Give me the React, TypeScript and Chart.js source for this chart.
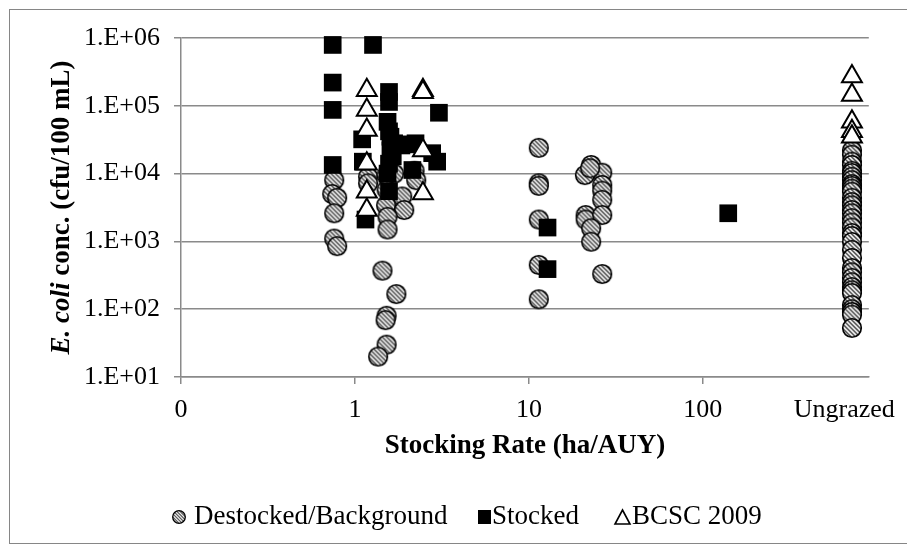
import React, { useEffect, useRef } from "react";
import { Chart, registerables } from "chart.js";

Chart.register(...registerables);

// ---------- data ----------
const UNGRAZED = 720; // plotting position used for the "Ungrazed" column
const UNGRAZED_LABEL_AT = 650;

const xTickValues = [0.1, 1, 10, 100, UNGRAZED_LABEL_AT];
const xTickLabels = ["0", "1", "10", "100", "Ungrazed"];
const yTickValues = [10, 100, 1000, 10000, 100000, 1000000];
const yTickLabels = ["1.E+01", "1.E+02", "1.E+03", "1.E+04", "1.E+05", "1.E+06"];

const xTitle = "Stocking Rate (ha/AUY)";
const yTitleItalic = "E. coli";
const yTitleRest = " conc. (cfu/100 mL)";
const seriesNames = ["Destocked/Background", "Stocked", "BCSC 2009"];

const destockedX = [
  0.76, 0.74, 0.79, 0.76, 0.76, 0.79,
  1.19, 1.19,
  1.52, 1.52, 1.87, 1.51, 1.92, 1.54, 1.54, 1.44, 1.73, 1.52, 1.5, 1.52, 1.36, 1.68, 2.2, 2.25,
  11.4, 11.4, 11.4, 11.4, 11.4, 11.4,
  22.8, 21, 26.4, 26.4, 26.4, 26.4, 21.2, 21.2, 26.4, 22.8, 22.8, 26.4, 22.5,
  UNGRAZED, UNGRAZED, UNGRAZED, UNGRAZED, UNGRAZED, UNGRAZED, UNGRAZED, UNGRAZED, UNGRAZED, UNGRAZED,
  UNGRAZED, UNGRAZED, UNGRAZED, UNGRAZED, UNGRAZED, UNGRAZED, UNGRAZED, UNGRAZED, UNGRAZED, UNGRAZED,
  UNGRAZED, UNGRAZED, UNGRAZED, UNGRAZED, UNGRAZED, UNGRAZED, UNGRAZED, UNGRAZED, UNGRAZED, UNGRAZED,
  UNGRAZED, UNGRAZED, UNGRAZED, UNGRAZED, UNGRAZED, UNGRAZED, UNGRAZED,
];
const destockedY = [
  8000, 5000, 4400, 2600, 1100, 850,
  9000, 7200,
  9500, 5800, 4600, 3400, 2900, 2300, 1500, 370, 167, 80, 69, 30, 20, 10000, 11000, 8000,
  24000, 7200, 6600, 2100, 450, 140,
  13400, 9500, 10300, 6800, 5600, 4100, 2450, 2100, 2450, 1560, 990, 330, 12000,
  22000, 19000, 15000, 13400, 11000, 10200, 9000, 8000, 7000, 6600,
  6000, 5400, 4400, 3800, 3400, 2900, 2600, 2200, 1900, 1600,
  1330, 1200, 980, 750, 570, 405, 350, 290, 250, 212,
  190, 173, 115, 100, 91, 83, 53,
];

const stockedX = [
  0.745, 1.27, 0.745, 0.745, 1.57, 1.57, 3.04, 1.54, 1.57, 1.6, 1.1, 1.68, 1.85, 2.0, 2.23,
  1.6, 2.78, 2.97, 1.65, 1.11, 1.57, 0.745, 2.14, 1.54, 1.57, 1.15, 12.8, 12.8, 140,
];
const stockedY = [
  790000, 790000, 220000, 87000, 160000, 114000, 79000, 58000, 42000, 35000, 32000, 28000, 26000, 27000, 28000,
  22000, 20000, 15000, 18000, 15000, 14000, 13400, 11300, 10000, 5500, 2100, 1600, 390, 2600,
];

const bcscX = [
  1.17, 1.17, 1.17, 1.17, 1.17, 1.17,
  2.46, 2.46, 2.46, 2.46,
  UNGRAZED, UNGRAZED, UNGRAZED, UNGRAZED, UNGRAZED,
];
const bcscY = [
  170000, 87000, 44000, 14000, 5400, 2900,
  170000, 158000, 22000, 5100,
  270000, 144000, 58000, 42000, 35000,
];

// ---------- styling ----------
const FONT = "'Liberation Serif', 'Times New Roman', serif";
const GRID = "#8a8a8a";

function drawHatchedCircle(ctx: CanvasRenderingContext2D, cx: number, cy: number, r: number, lw: number, pitch: number) {
  ctx.save();
  ctx.beginPath();
  ctx.arc(cx, cy, r, 0, Math.PI * 2);
  ctx.closePath();
  ctx.fillStyle = "#f2f2f2";
  ctx.fill();
  ctx.clip();
  ctx.strokeStyle = "#555555";
  ctx.lineWidth = pitch * 0.36;
  for (let k = -2 * r; k <= 2 * r; k += pitch) {
    ctx.beginPath();
    ctx.moveTo(cx + k - r, cy - r);
    ctx.lineTo(cx + k + r, cy + r);
    ctx.stroke();
  }
  ctx.restore();
  ctx.beginPath();
  ctx.arc(cx, cy, r, 0, Math.PI * 2);
  ctx.strokeStyle = "#000";
  ctx.lineWidth = lw;
  ctx.stroke();
}

function makeCircleImage(): HTMLCanvasElement {
  const c = document.createElement("canvas");
  c.width = 22;
  c.height = 22;
  const ctx = c.getContext("2d")!;
  drawHatchedCircle(ctx, 11, 11, 9.3, 1.6, 4.4);
  return c;
}

const decorPlugin = {
  id: "decor",
  beforeDraw(chart: any) {
    const ctx: CanvasRenderingContext2D = chart.ctx;
    ctx.save();
    ctx.fillStyle = "#ffffff";
    ctx.fillRect(0, 0, chart.width, chart.height);
    ctx.strokeStyle = "#868686";
    ctx.lineWidth = 1;
    ctx.strokeRect(9.5, 9.5, chart.width + 20, 534);
    ctx.restore();
  },
  afterDraw(chart: any) {
    const ctx: CanvasRenderingContext2D = chart.ctx;
    const ca = chart.chartArea;
    ctx.save();
    ctx.fillStyle = "#000";
    ctx.textBaseline = "middle";

    // x axis title
    ctx.font = `bold 27px ${FONT}`;
    ctx.textAlign = "center";
    ctx.fillText(xTitle, (ca.left + ca.right) / 2, 446);

    // y axis title (mixed italic)
    ctx.save();
    ctx.translate(62, (ca.top + ca.bottom) / 2);
    ctx.rotate(-Math.PI / 2);
    ctx.textAlign = "left";
    ctx.font = `italic bold 27px ${FONT}`;
    const w1 = ctx.measureText(yTitleItalic).width;
    ctx.font = `bold 27px ${FONT}`;
    const w2 = ctx.measureText(yTitleRest).width;
    const start = -(w1 + w2) / 2;
    ctx.font = `italic bold 27px ${FONT}`;
    ctx.fillText(yTitleItalic, start, 0);
    ctx.font = `bold 27px ${FONT}`;
    ctx.fillText(yTitleRest, start + w1, 0);
    ctx.restore();

    // legend
    const ly = 517;
    ctx.font = `27px ${FONT}`;
    ctx.textAlign = "left";
    drawHatchedCircle(ctx, 179, ly, 6.3, 1.3, 3.2);
    ctx.fillStyle = "#000";
    ctx.fillText(seriesNames[0], 194, ly);
    ctx.fillRect(478, ly - 7, 13, 14);
    ctx.fillText(seriesNames[1], 492, ly);
    ctx.beginPath();
    ctx.moveTo(622.5, ly - 7);
    ctx.lineTo(630, ly + 7);
    ctx.lineTo(615, ly + 7);
    ctx.closePath();
    ctx.strokeStyle = "#000";
    ctx.lineWidth = 1.6;
    ctx.stroke();
    ctx.fillText(seriesNames[2], 632, ly);
    ctx.restore();
  },
};

export default function App() {
  const canvasRef = useRef<HTMLCanvasElement | null>(null);

  useEffect(() => {
    const canvas = canvasRef.current;
    if (!canvas) return;
    const circleImg = makeCircleImage();

    const chart = new Chart(canvas, {
      type: "scatter",
      data: {
        datasets: [
          {
            label: seriesNames[0],
            data: destockedX.map((x, i) => ({ x, y: destockedY[i] })),
            pointStyle: circleImg as any,
            pointRadius: 10,
            order: 3,
            clip: false as any,
          },
          {
            label: seriesNames[1],
            data: stockedX.map((x, i) => ({ x, y: stockedY[i] })),
            pointStyle: "rect",
            pointRadius: 12.5,
            backgroundColor: "#000",
            borderColor: "#000",
            borderWidth: 0,
            order: 2,
            clip: false as any,
          },
          {
            label: seriesNames[2],
            data: bcscX.map((x, i) => ({ x, y: bcscY[i] })),
            pointStyle: "triangle",
            pointRadius: 11.5,
            backgroundColor: "#fff",
            borderColor: "#000",
            borderWidth: 2,
            order: 1,
            clip: false as any,
          },
        ],
      },
      options: {
        animation: false,
        responsive: false,
        events: [],
        layout: { padding: { top: 38, right: 35, left: 0, bottom: 0 } },
        plugins: {
          legend: { display: false },
          tooltip: { enabled: false },
          title: { display: false },
        },
        scales: {
          x: {
            type: "logarithmic",
            min: 0.1,
            max: 900,
            afterBuildTicks: (s: any) => {
              s.ticks = xTickValues.map((v) => ({ value: v }));
            },
            afterFit: (s: any) => {
              s.height = 173;
            },
            ticks: {
              callback: (_v: any, i: number) => xTickLabels[i],
              font: { family: FONT, size: 26 },
              color: "#000",
              padding: 11,
              maxRotation: 0,
              autoSkip: false,
            },
            grid: {
              drawOnChartArea: false,
              tickLength: 7,
              lineWidth: 1.5,
              color: (c: any) => (c.index === xTickValues.length - 1 ? "rgba(0,0,0,0)" : GRID),
            },
            border: { color: GRID, width: 1.5 },
          },
          y: {
            type: "logarithmic",
            min: 10,
            max: 1000000,
            afterBuildTicks: (s: any) => {
              s.ticks = yTickValues.map((v) => ({ value: v }));
            },
            afterFit: (s: any) => {
              s.width = 181;
            },
            ticks: {
              callback: (_v: any, i: number) => yTickLabels[i],
              font: { family: FONT, size: 26 },
              color: "#000",
              padding: 14,
              autoSkip: false,
            },
            grid: {
              color: GRID,
              tickLength: 7,
              lineWidth: 1.5,
            },
            border: { color: GRID, width: 1.5 },
          },
        },
      } as any,
      plugins: [decorPlugin],
    });

    return () => {
      chart.destroy();
    };
  }, []);

  return (
    <div style={{ position: "absolute", left: 0, top: 0, width: 907, height: 550 }}>
      <canvas ref={canvasRef} width={907} height={550} style={{ display: "block" }} />
    </div>
  );
}
